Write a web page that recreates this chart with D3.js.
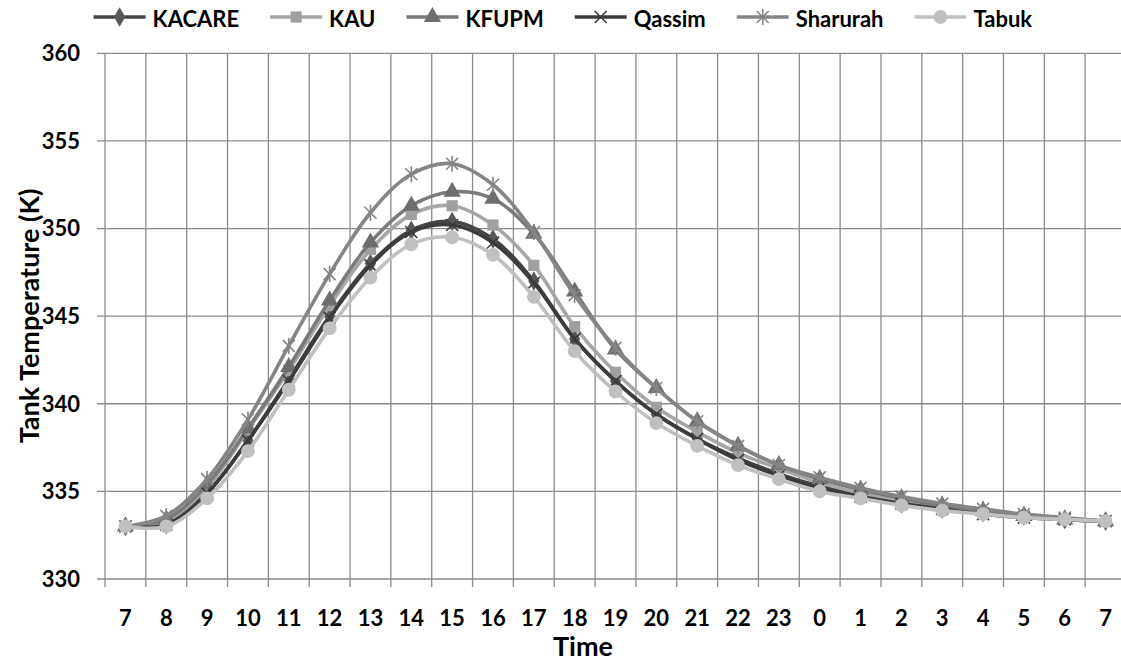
<!DOCTYPE html>
<html>
<head>
<meta charset="utf-8">
<script src="https://cdn.jsdelivr.net/npm/d3@7"></script>
<style>
  body { margin: 0; background: #fff; }
  text { font-family: Lato, "Open Sans", sans-serif; font-weight: 700; fill: #000; }
</style>
</head>
<body>
<div class="chart"></div>
<script>
var hours = ['7', '8', '9', '10', '11', '12', '13', '14', '15', '16', '17', '18', '19',
  '20', '21', '22', '23', '0', '1', '2', '3', '4', '5', '6', '7'];
var yTicks = [330, 335, 340, 345, 350, 355, 360];

var kacare = [333.0, 333.1, 334.9, 337.9, 341.4, 345.0, 348.0, 349.9, 350.4, 349.4, 347.0, 343.7, 341.3,
  339.4, 338.0, 336.9, 336.0, 335.3, 334.8, 334.3, 334.0, 333.8, 333.6, 333.4, 333.3];
var kau = [333.0, 333.2, 335.2, 338.5, 341.9, 345.6, 348.8, 350.8, 351.3, 350.2, 347.9, 344.4, 341.8,
  339.8, 338.4, 337.2, 336.3, 335.5, 334.9, 334.4, 334.1, 333.8, 333.6, 333.4, 333.3];
var kfupm = [333.0, 333.4, 335.4, 338.6, 342.1, 345.9, 349.2, 351.3, 352.1, 351.7, 349.7, 346.4, 343.1,
  340.9, 339.0, 337.6, 336.5, 335.7, 335.1, 334.6, 334.2, 333.9, 333.6, 333.4, 333.3];
var qassim = [333.0, 333.1, 334.9, 337.9, 341.3, 344.9, 347.9, 349.8, 350.2, 349.2, 346.9, 343.7, 341.3,
  339.4, 338.0, 336.8, 335.9, 335.2, 334.7, 334.3, 334.0, 333.7, 333.5, 333.4, 333.3];
var sharurah = [333.0, 333.6, 335.7, 339.1, 343.3, 347.4, 350.9, 353.1, 353.7, 352.5, 349.8, 346.2, 343.2,
  340.9, 339.0, 337.6, 336.5, 335.8, 335.2, 334.7, 334.3, 334.0, 333.7, 333.5, 333.3];
var tabuk = [333.0, 333.0, 334.6, 337.3, 340.8, 344.3, 347.2, 349.1, 349.5, 348.5, 346.1, 343.0, 340.7,
  338.9, 337.6, 336.5, 335.7, 335.0, 334.6, 334.2, 333.9, 333.7, 333.5, 333.4, 333.3];

var series = [
  { name: 'KACARE', values: kacare, line: '#454545', fill: '#595959', marker: 'diamond' },
  { name: 'KAU', values: kau, line: '#a6a6a6', fill: '#a0a0a0', marker: 'square' },
  { name: 'KFUPM', values: kfupm, line: '#7a7a7a', fill: '#6e6e6e', marker: 'triangle' },
  { name: 'Qassim', values: qassim, line: '#3c3c3c', fill: '#3c3c3c', marker: 'x' },
  { name: 'Sharurah', values: sharurah, line: '#858585', fill: '#858585', marker: 'star' },
  { name: 'Tabuk', values: tabuk, line: '#c0c0c0', fill: '#c0c0c0', marker: 'circle' }
];

var W = 1121, H = 661;
var plotLeft = 105, plotRight = 1126, plotTop = 53.3, plotBottom = 579;
var gridColor = '#8a8a8a';

var svg = d3.select('.chart')
  .append('svg')
    .attr('width', W)
    .attr('height', H);

var xScale = d3.scaleBand()
  .domain(d3.range(hours.length))
  .range([plotLeft, plotRight])
  .padding(0);

var yScale = d3.scaleLinear()
  .domain([330, 360])
  .range([plotBottom, plotTop]);

var step = xScale.step();
var xCenter = i => xScale(i) + step / 2;

// gridlines
var grid = svg.append('g');
grid.selectAll('.hg')
  .data(yTicks)
  .enter().append('line')
    .attr('x1', plotLeft - 8)
    .attr('x2', plotRight)
    .attr('y1', d => yScale(d))
    .attr('y2', d => yScale(d))
    .attr('stroke', gridColor)
    .attr('stroke-width', 1.3);
grid.selectAll('.vg')
  .data(d3.range(hours.length + 1))
  .enter().append('line')
    .attr('x1', d => plotLeft + d * step)
    .attr('x2', d => plotLeft + d * step)
    .attr('y1', plotTop)
    .attr('y2', plotBottom + 8)
    .attr('stroke', gridColor)
    .attr('stroke-width', 1.3);

// y axis labels
svg.append('g')
  .selectAll('text')
  .data(yTicks)
  .enter().append('text')
    .attr('x', 80)
    .attr('y', d => yScale(d))
    .attr('dy', '0.36em')
    .attr('text-anchor', 'end')
    .style('font-size', '22px')
    .text(d => d);

// x axis labels
svg.append('g')
  .selectAll('text')
  .data(hours)
  .enter().append('text')
    .attr('x', (d, i) => xCenter(i))
    .attr('y', 626)
    .attr('text-anchor', 'middle')
    .style('font-size', '22px')
    .text(d => d);

svg.append('text')
  .attr('x', 583)
  .attr('y', 656)
  .attr('text-anchor', 'middle')
  .style('font-size', '27px')
  .text('Time');

svg.append('text')
  .attr('transform', 'translate(39, 316) rotate(-90)')
  .attr('text-anchor', 'middle')
  .style('font-size', '27px')
  .text('Tank Temperature (K)');

function drawMarker(g, type, color) {
  if (type === 'x') {
    g.append('path')
      .attr('d', 'M-6,-6L6,6M-6,6L6,-6')
      .attr('stroke', color)
      .attr('stroke-width', 1.6)
      .attr('fill', 'none');
  } else if (type === 'star') {
    g.append('path')
      .attr('d', 'M-6,-6L6,6M-6,6L6,-6M0,-8L0,8')
      .attr('stroke', color)
      .attr('stroke-width', 1.6)
      .attr('fill', 'none');
  } else {
    var sym = { diamond: d3.symbolDiamond, square: d3.symbolSquare, triangle: d3.symbolTriangle, circle: d3.symbolCircle }[type];
    var size = { diamond: 110, square: 125, triangle: 130, circle: 150 }[type];
    g.append('path')
      .attr('d', d3.symbol().type(sym).size(size)())
      .attr('fill', color);
  }
}

var line = d3.line()
  .x((d, i) => xCenter(i))
  .y(d => yScale(d))
  .curve(d3.curveCatmullRom.alpha(0.5));

series.forEach(function (s) {
  var g = svg.append('g');
  g.append('path')
    .datum(s.values)
    .attr('d', line)
    .attr('fill', 'none')
    .attr('stroke', s.line)
    .attr('stroke-width', 3.6);
  s.values.forEach(function (v, i) {
    var m = g.append('g').attr('transform', 'translate(' + xCenter(i) + ',' + yScale(v) + ')');
    drawMarker(m, s.marker, s.fill);
  });
});

// legend
var lx = 93.6;
series.forEach(function (s) {
  var g = svg.append('g').attr('transform', 'translate(' + lx + ',17)');
  g.append('line')
    .attr('x1', 0).attr('x2', 52)
    .attr('stroke', s.line)
    .attr('stroke-width', 3.6);
  drawMarker(g.append('g').attr('transform', 'translate(26,0)'), s.marker, s.fill);
  var t = g.append('text')
    .attr('x', 59)
    .attr('y', 9.5)
    .style('font-size', '22px')
    .text(s.name);
  lx += 59 + t.node().getComputedTextLength() + 31;
});
</script>
</body>
</html>
